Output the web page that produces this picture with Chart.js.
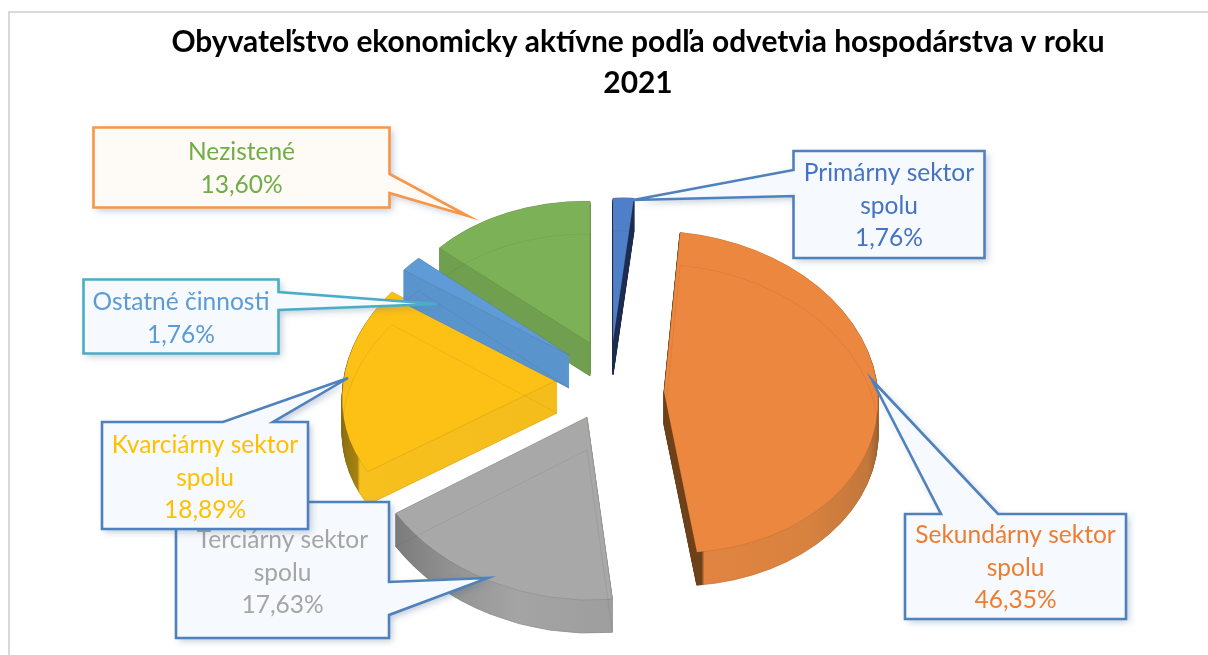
<!DOCTYPE html>
<html>
<head>
<meta charset="utf-8">
<style>html,body{margin:0;padding:0;background:#fff;overflow:hidden}canvas{display:block}</style>
<script src="https://cdn.jsdelivr.net/npm/chart.js@4/dist/chart.umd.js"></script>
</head>
<body>
<div style="width:1208px;height:655px;position:relative"><canvas id="c" width="1208" height="655"></canvas></div>
<script>
// ---- data ----
const titleLines = ['Obyvateľstvo ekonomicky aktívne podľa odvetvia hospodárstva v roku', '2021'];
const categories = ['Primárny sektor spolu', 'Sekundárny sektor spolu', 'Terciárny sektor spolu', 'Kvarciárny sektor spolu', 'Ostatné činnosti', 'Nezistené'];
const shares = [1.76, 46.35, 17.63, 18.89, 1.76, 13.60];
const labelBreaks = [['Primárny sektor', 'spolu'], ['Sekundárny sektor', 'spolu'], ['Terciárny sektor', 'spolu'], ['Kvarciárny sektor', 'spolu'], ['Ostatné činnosti'], ['Nezistené']];

// ---- styles ----
const faceColors = ['#4f7fc9', '#ec8740', '#a8a8a8', '#fdc116', '#5f9bd6', '#7cb157'];
const textColors = ['#4472c4', '#ed7d31', '#a5a5a5', '#ffc000', '#5b9bd5', '#70ad47'];
const FONT = 'Lato, Carlito, sans-serif';

// Pie projection: centre of the tilted pie, its extrusion depth, and for each slice
// the explosion shift plus the two axes of its tilted ellipse.
const pieCentre = [610, 379];
const depth = 33;
const explode = [[3, -37], [54, 13], [-23, 38], [-53, 1], [-41, -24], [-20, -36]];
const axisX = [[190, -8], [214, 3], [228, 5], [214, -4], [208, 5], [200, 2.4]];
const axisY = [[0, 144], [7.6, 161], [-1.5, 183], [-19, 161], [-10, 142], [0, 142]];
const drawOrder = [3, 5, 4, 2, 1, 0];
const wallStops = [
  [[600, '#1c2b50'], [640, '#1c2b50']],
  [[660, '#6e4119'], [694, '#6e4119'], [697, '#e28441'], [800, '#d8823f'], [865, '#c2773c'], [880, '#94602f']],
  [[397, '#7c7c7c'], [470, '#989898'], [520, '#a4a4a4'], [612, '#9e9e9e']],
  [[342, '#8a6c10'], [366, '#a58212'], [369, '#f7c01d'], [560, '#f4bd1c']],
  [[400, '#5a94cc'], [570, '#5a94cc']],
  [[430, '#6f9f4f'], [590, '#6f9f4f']]
];

// Callouts: box, pointer tip, pointer base (side + two offsets), colours
const callouts = [
  {i: 2, box: [176, 502, 213, 136], tip: [488, 578], side: 'right', base: [582, 615], stroke: '#4f81bd', fill: '#f6f9fd', cy: 540},
  {i: 3, box: [102, 422, 206, 107], tip: [348, 378], side: 'top', base: [223, 273], stroke: '#4f81bd', fill: '#f6f9fd', cy: 445},
  {i: 4, box: [83.5, 279.5, 195, 74], tip: [437, 304], side: 'right', base: [292, 310], stroke: '#4bacc6', fill: '#f6f9fd', cy: 302},
  {i: 5, box: [93.5, 127.5, 296, 80], tip: [468, 216], side: 'right', base: [174, 193], stroke: '#f79646', fill: '#fefaf5', cy: 152},
  {i: 0, box: [793.5, 151, 191, 107], tip: [633, 200], side: 'left', base: [170, 196], stroke: '#4f81bd', fill: '#f6f9fd', cy: 173},
  {i: 1, box: [905, 514, 221, 105], tip: [872, 380], side: 'top', base: [941, 998], stroke: '#4f81bd', fill: '#f6f9fd', cy: 535}
];
const labelFontPx = 24.5;
const labelLine = 32.7;

function arcDraw(ctx, el, opts) {
  const p = Object.create(el);
  p.options = Object.assign({borderWidth: 0, borderColor: 'transparent', borderAlign: 'center', offset: 0, spacing: 0, circular: true, borderRadius: 0, borderJoinStyle: 'round'}, opts);
  p.draw(ctx);
}
function project(ctx, el, i, dy) {
  const r = el.outerRadius;
  ctx.translate(pieCentre[0] + explode[i][0], pieCentre[1] + explode[i][1] + dy);
  ctx.transform(axisX[i][0] / r, axisX[i][1] / r, axisY[i][0] / r, axisY[i][1] / r, 0, 0);
  ctx.translate(-el.x, -el.y);
}
function wallPaint(ctx, el, i) {
  const r = el.outerRadius, ax = pieCentre[0] + explode[i][0];
  const stops = wallStops[i];
  const toLocal = X => el.x + (X - ax) * r / axisX[i][0];
  const x0 = stops[0][0], x1 = stops[stops.length - 1][0];
  const g = ctx.createLinearGradient(toLocal(x0), 0, toLocal(x1), 0);
  stops.forEach(s => g.addColorStop((s[0] - x0) / (x1 - x0), s[1]));
  return g;
}
const tiltedPie = {
  id: 'tiltedPie',
  beforeDatasetsDraw(chart) {
    const ctx = chart.ctx, arcs = chart.getDatasetMeta(0).data;
    drawOrder.forEach(i => {
      const el = arcs[i];
      const paint = wallPaint(ctx, el, i);
      for (let d = depth; d >= 0.5; d -= 0.5) {
        ctx.save(); project(ctx, el, i, d);
        arcDraw(ctx, el, {backgroundColor: paint, borderColor: paint, borderWidth: 1});
        ctx.restore();
      }
      ctx.save(); project(ctx, el, i, 0);
      arcDraw(ctx, el, {backgroundColor: faceColors[i], borderColor: 'rgba(70,50,20,0.22)', borderWidth: 0.8});
      ctx.restore();
      ctx.save(); project(ctx, el, i, depth);
      arcDraw(ctx, el, {backgroundColor: 'rgba(0,0,0,0)', borderColor: 'rgba(60,40,10,0.12)', borderWidth: 1});
      ctx.restore();
    });
    return false;
  },
  beforeDraw(chart) {
    const ctx = chart.ctx;
    ctx.save();
    ctx.fillStyle = '#fff'; ctx.fillRect(0, 0, 1208, 655);
    ctx.strokeStyle = '#d9d9d9'; ctx.lineWidth = 2;
    ctx.strokeRect(9, 12, 1300, 800);
    ctx.restore();
  },
  afterDraw(chart) {
    const ctx = chart.ctx;
    callouts.forEach(c => {
      const [x, y, w, h] = c.box, [a, b] = c.base, [tx, ty] = c.tip;
      ctx.save();
      ctx.beginPath();
      ctx.moveTo(x, y);
      if (c.side === 'top') { ctx.lineTo(a, y); ctx.lineTo(tx, ty); ctx.lineTo(b, y); }
      ctx.lineTo(x + w, y);
      if (c.side === 'right') { ctx.lineTo(x + w, a); ctx.lineTo(tx, ty); ctx.lineTo(x + w, b); }
      ctx.lineTo(x + w, y + h);
      ctx.lineTo(x, y + h);
      if (c.side === 'left') { ctx.lineTo(x, b); ctx.lineTo(tx, ty); ctx.lineTo(x, a); }
      ctx.closePath();
      ctx.shadowColor = 'rgba(70,100,140,0.35)'; ctx.shadowBlur = 7; ctx.shadowOffsetX = 3; ctx.shadowOffsetY = 3;
      ctx.fillStyle = c.fill; ctx.fill();
      ctx.shadowColor = 'transparent';
      ctx.strokeStyle = c.stroke; ctx.lineWidth = 2.6; ctx.lineJoin = 'miter'; ctx.stroke();
      const pct = shares[c.i].toFixed(2).replace('.', ',') + '%';
      const lines = labelBreaks[c.i].concat([pct]);
      ctx.fillStyle = textColors[c.i];
      ctx.font = labelFontPx + 'px ' + FONT;
      ctx.textAlign = 'center'; ctx.textBaseline = 'middle';
      lines.forEach((t, k) => ctx.fillText(t, x + w / 2, c.cy + k * labelLine));
      ctx.restore();
    });
  }
};
new Chart(document.getElementById('c'), {
  type: 'pie',
  data: {labels: categories, datasets: [{data: shares, backgroundColor: faceColors, borderWidth: 0}]},
  plugins: [tiltedPie],
  options: {
    responsive: false,
    animation: false,
    layout: {padding: {left: 68, top: 0, right: 0, bottom: 0}},
    plugins: {
      legend: {display: false},
      tooltip: {enabled: false},
      title: {display: true, text: titleLines, color: '#000', font: {family: FONT, size: 29.9, weight: 'bold', lineHeight: 1.4}, padding: {top: 21, bottom: 10}}
    }
  }
});
</script>
</body>
</html>
